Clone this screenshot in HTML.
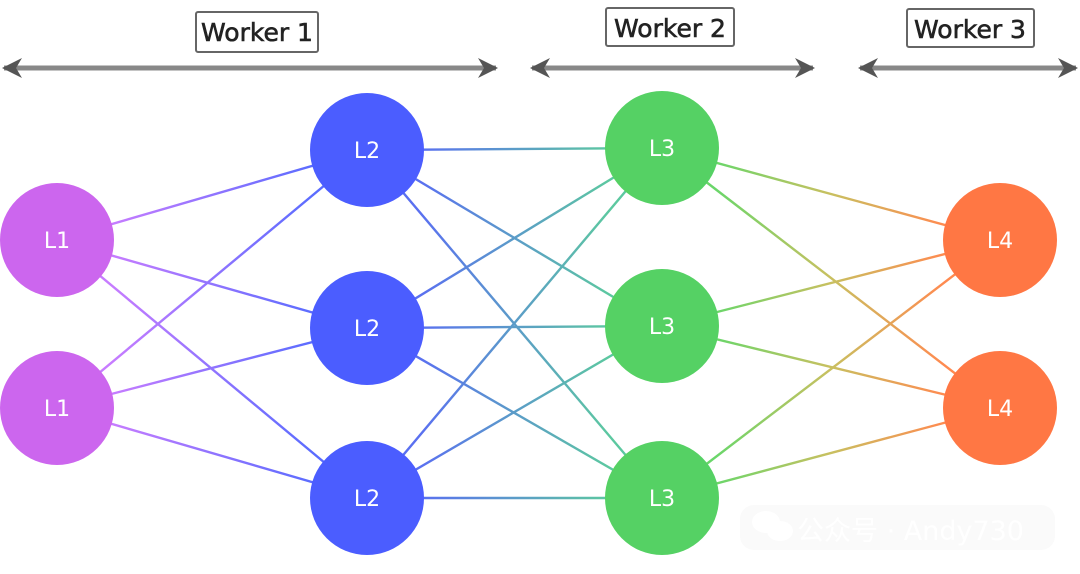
<!DOCTYPE html>
<html><head><meta charset="utf-8"><style>
html,body{margin:0;padding:0;background:#fff;width:1080px;height:574px;overflow:hidden}
text{font-family:"DejaVu Sans","Liberation Sans",sans-serif}
</style></head><body>
<svg width="1080" height="574" viewBox="0 0 1080 574" xmlns="http://www.w3.org/2000/svg">
<defs>
<linearGradient id="g1" gradientUnits="userSpaceOnUse" x1="110" y1="0" x2="315" y2="0"><stop offset="0" stop-color="#c77cff"/><stop offset="1" stop-color="#5a6cff"/></linearGradient>
<linearGradient id="g2" gradientUnits="userSpaceOnUse" x1="420" y1="0" x2="610" y2="0"><stop offset="0" stop-color="#5a70f0"/><stop offset="1" stop-color="#5cc8a0"/></linearGradient>
<linearGradient id="g3" gradientUnits="userSpaceOnUse" x1="715" y1="0" x2="945" y2="0"><stop offset="0" stop-color="#6ad66a"/><stop offset="0.5" stop-color="#c8c060"/><stop offset="1" stop-color="#ff8a50"/></linearGradient>
<marker id="ah" viewBox="0 0 10 10" refX="9" refY="5" markerWidth="4" markerHeight="4" orient="auto-start-reverse"><path d="M0,0 L10,5 L0,10 L3,5z" fill="#555"/></marker>
</defs>
<g stroke="#888" stroke-width="5" marker-start="url(#ah)" marker-end="url(#ah)">
<line x1="4" y1="68" x2="496" y2="68"/>
<line x1="532" y1="68" x2="813" y2="68"/>
<line x1="860" y1="68" x2="1076" y2="68"/>
</g>
<g fill="#fff" stroke="#666" stroke-width="2">
<rect x="196" y="12" width="122" height="40" rx="2"/>
<rect x="606" y="8" width="128" height="38" rx="2"/>
<rect x="907" y="9" width="127" height="38" rx="2"/>
</g>
<g font-size="25" fill="#222" text-anchor="middle" stroke="#222" stroke-width="0.6">
<text x="257" y="41">Worker 1</text>
<text x="670" y="37">Worker 2</text>
<text x="970" y="38">Worker 3</text>
</g>
<g stroke="url(#g1)" stroke-width="2.4">
<line x1="57" y1="240" x2="367" y2="150"/><line x1="57" y1="240" x2="367" y2="328"/><line x1="57" y1="240" x2="367" y2="498"/>
<line x1="57" y1="408" x2="367" y2="150"/><line x1="57" y1="408" x2="367" y2="328"/><line x1="57" y1="408" x2="367" y2="498"/>
</g>
<g stroke="url(#g2)" stroke-width="2.4">
<line x1="367" y1="150" x2="662" y2="148"/><line x1="367" y1="150" x2="662" y2="326"/><line x1="367" y1="150" x2="662" y2="498"/>
<line x1="367" y1="328" x2="662" y2="148"/><line x1="367" y1="328" x2="662" y2="326"/><line x1="367" y1="328" x2="662" y2="498"/>
<line x1="367" y1="498" x2="662" y2="148"/><line x1="367" y1="498" x2="662" y2="326"/><line x1="367" y1="498" x2="662" y2="498"/>
</g>
<g stroke="url(#g3)" stroke-width="2.4">
<line x1="662" y1="148" x2="1000" y2="240"/><line x1="662" y1="148" x2="1000" y2="408"/>
<line x1="662" y1="326" x2="1000" y2="240"/><line x1="662" y1="326" x2="1000" y2="408"/>
<line x1="662" y1="498" x2="1000" y2="240"/><line x1="662" y1="498" x2="1000" y2="408"/>
</g>
<g fill="#cc66ee"><circle cx="57" cy="240" r="57"/><circle cx="57" cy="408" r="57"/></g>
<g fill="#4b5dff"><circle cx="367" cy="150" r="57"/><circle cx="367" cy="328" r="57"/><circle cx="367" cy="498" r="57"/></g>
<g fill="#55d164"><circle cx="662" cy="148" r="57"/><circle cx="662" cy="326" r="57"/><circle cx="662" cy="498" r="57"/></g>
<g fill="#ff7744"><circle cx="1000" cy="240" r="57"/><circle cx="1000" cy="408" r="57"/></g>
<g font-size="22" fill="#fff" text-anchor="middle">
<text x="57" y="248">L1</text><text x="57" y="416">L1</text>
<text x="367" y="158">L2</text><text x="367" y="336">L2</text><text x="367" y="506">L2</text>
<text x="662" y="156">L3</text><text x="662" y="334">L3</text><text x="662" y="506">L3</text>
<text x="1000" y="248">L4</text><text x="1000" y="416">L4</text>
</g>
<rect x="740" y="505" width="315" height="45" rx="14" fill="#f6f6f6" opacity="0.6"/>
<g fill="#fff"><ellipse cx="766" cy="522" rx="14" ry="11"/><ellipse cx="780" cy="531" rx="13" ry="10"/></g>
<text x="797" y="540" font-size="27" fill="#fff" font-family="'Noto Sans CJK SC',sans-serif">公众号 · Andy730</text>
</svg>
</body></html>
